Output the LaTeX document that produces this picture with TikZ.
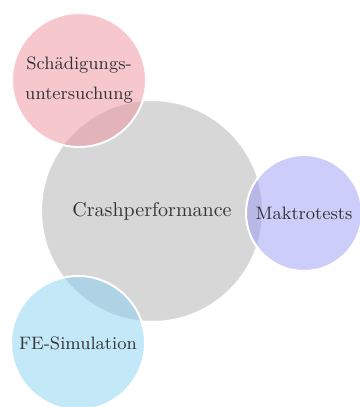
\documentclass[tikz,border=0pt]{standalone}
\usepackage{amsmath}
\usepackage{tikz}
\definecolor{kreisgrau}{RGB}{215,215,215}
\definecolor{kreisrot}{RGB}{237,145,155}
\definecolor{kreisblau}{RGB}{135,209,241}
\definecolor{kreislila}{RGB}{155,155,245}
\tikzset{
  kreis/.style={circle,draw=white,line width=1pt,text=black!80,inner sep=0pt,align=center},
  nebenkreis/.style={kreis,fill opacity=0.5,text opacity=1,font=\small}
}
\begin{document}
\begin{tikzpicture}[x=0.5pt,y=-0.5pt]
% Frame
\useasboundingbox (0,0) rectangle (359,407);
% Main circle
\node[kreis,fill=kreisgrau,minimum size=111pt] (crash) at (152,211) {Crashperformance};
% Small circles
\node[nebenkreis,fill=kreisrot,minimum size=67pt] (schaden) at (79,80) {Sch\"adigungs-\\[4pt]untersuchung};
\node[nebenkreis,fill=kreislila,minimum size=58pt] (makro) at (304,213) {Maktrotests};
\node[nebenkreis,fill=kreisblau,minimum size=67pt] (fesim) at (78,343) {FE-Simulation};
\end{tikzpicture}
\end{document}
